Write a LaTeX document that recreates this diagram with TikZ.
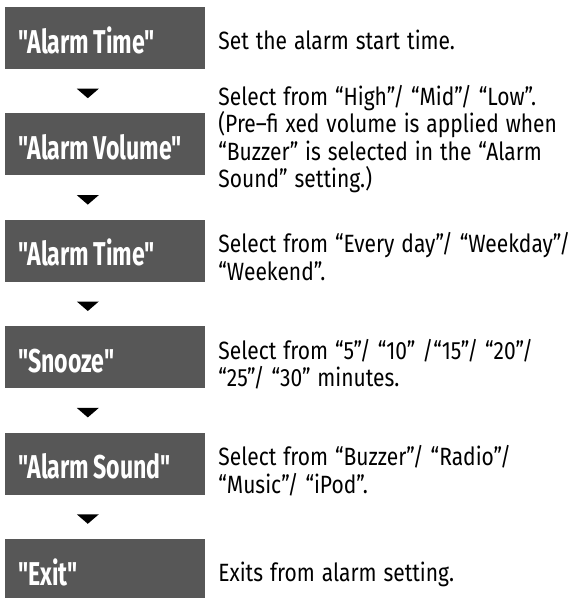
\documentclass[tikz,border=0pt]{standalone}
\usepackage{fontspec}
\usetikzlibrary{positioning,calc}
\newfontfamily\descfont[FakeStretch=0.84,WordSpace=1.25]{Fira Sans}
\newfontfamily\boxfont[FakeStretch=0.70]{Fira Sans}
\definecolor{boxgray}{HTML}{575757}
\newcommand{\tightspaces}{\spaceskip=4.5pt plus 1pt minus 1pt\relax}
\tikzset{
  stepbox/.style={fill=boxgray, draw=none, minimum width=200pt, minimum height=62pt,
    text width=174pt, inner xsep=13pt, inner ysep=0pt, text height=30pt, text depth=0pt,
    align=left, text=white, font=\boxfont\bfseries\fontsize{33}{35}\selectfont,
    execute at begin node=\tightspaces},
  desc/.style={anchor=base west, inner sep=0pt, font=\descfont\fontsize{25}{27.5}\selectfont},
  tri/.style={fill=black, line join=round}
}
\newcommand{\desctext}[1]{\parbox[t]{380pt}{\raggedright #1}}
\begin{document}
\begin{tikzpicture}[x=1pt,y=1pt]
\useasboundingbox (0,0) rectangle (587,-598);
\node[stepbox] (b1) at (105,-38) {"Alarm Time"};
\node[stepbox, below=44pt of b1] (b2) {"Alarm Volume"};
\node[stepbox, below=44pt of b2] (b3) {"Alarm Time"};
\node[stepbox, below=44pt of b3] (b4) {"Snooze"};
\node[stepbox, below=44pt of b4] (b5) {"Alarm Sound"};
\node[stepbox, below=44pt of b5] (b6) {"Exit"};
\foreach \a/\b in {b1/b2,b2/b3,b3/b4,b4/b5,b5/b6}{
  \coordinate (m\a) at ($(\a.south west)!0.5!(\b.north west)+(83pt,2.5pt)$);
  \fill[tri] (m\a) ++(-11pt,0) -- ++(22pt,0) -- ++(-11pt,-9.5pt) -- cycle;
}
\node[desc] (d1) at ([xshift=13pt,yshift=-11pt]b1.east) {\desctext{Set the alarm start time.}};
\node[desc] (d2) at ([xshift=13pt,yshift=39pt]b2.east) {\desctext{Select from “High”/ “Mid”/ “Low”.\\(Pre–fi xed volume is applied when\\“Buzzer” is selected in the “Alarm\\Sound” setting.)}};
\node[desc] (d3) at ([xshift=13pt,yshift=-2pt]b3.east) {\desctext{Select from “Every day”/ “Weekday”/\\“Weekend”.}};
\node[desc] (d4) at ([xshift=13pt,yshift=-2pt]b4.east) {\desctext{Select from “5”/ “10” /“15”/ “20”/\\“25”/ “30” minutes.}};
\node[desc] (d5) at ([xshift=13pt,yshift=-2pt]b5.east) {\desctext{Select from “Buzzer”/ “Radio”/\\“Music”/ “iPod”.}};
\node[desc] (d6) at ([xshift=13pt,yshift=-11pt]b6.east) {\desctext{Exits from alarm setting.}};
\end{tikzpicture}
\end{document}
